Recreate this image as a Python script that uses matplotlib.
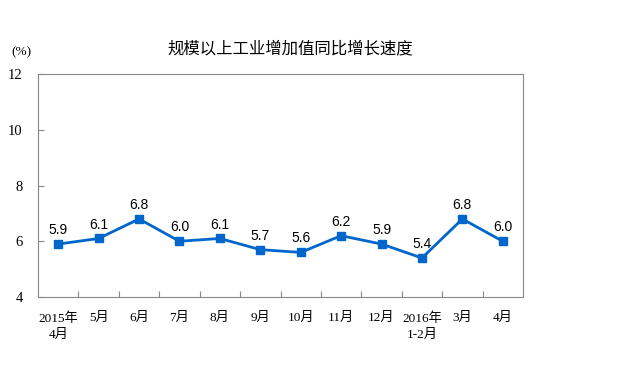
import matplotlib.pyplot as plt

# data
months = ['2015年\n4月', '5月', '6月', '7月', '8月', '9月', '10月',
          '11月', '12月', '2016年\n1-2月', '3月', '4月']
growth = [5.9, 6.1, 6.8, 6.0, 6.1, 5.7, 5.6, 6.2, 5.9, 5.4, 6.8, 6.0]
y_ticks = [4, 6, 8, 10, 12]

serif = ['Liberation Serif', 'Noto Sans CJK SC']
sans = ['Liberation Sans', 'Noto Sans CJK SC']

fig = plt.figure(figsize=(6.25, 3.67), dpi=100)
ax = fig.add_axes([0.0608, 0.1907, 0.776, 0.6076])

x = list(range(len(growth)))
ax.plot(x, growth, color='#0066CC', linewidth=2, marker='s', markersize=5.5)
for xi, v in zip(x, growth):
    ax.annotate(f'{v:.1f}', (xi, v), xytext=(0, 5), textcoords='offset points',
                ha='center', va='bottom', fontsize=10, family=sans)

ax.set_xlim(-0.5, len(growth) - 0.5)
ax.set_ylim(4, 12)
ax.set_yticks(y_ticks)
ax.set_yticklabels([str(t) for t in y_ticks], family=serif, fontsize=10.5)
ax.set_xticks([i + 0.5 for i in range(len(growth) - 1)])
ax.set_xticklabels([])
ax.set_xticks(x, minor=True)
ax.set_xticklabels(months, minor=True, family=serif, fontsize=9.5, linespacing=1.45, va='top')
ax.tick_params(axis='x', which='minor', length=0, pad=11)
ax.tick_params(axis='x', which='major', direction='in', length=4, color='#888888')
ax.tick_params(axis='y', direction='in', length=4, color='#888888', pad=11)

for s in ax.spines.values():
    s.set_color('#888888')

fig.text(0.464, 0.868, '规模以上工业增加值同比增长速度', ha='center', va='center',
         fontsize=11.8, family=['Noto Sans CJK SC', 'DejaVu Sans'])
fig.text(0.034, 0.858, '(%)', ha='center', va='center', fontsize=9.5, family=serif)

fig.savefig('out.png', dpi=100)
